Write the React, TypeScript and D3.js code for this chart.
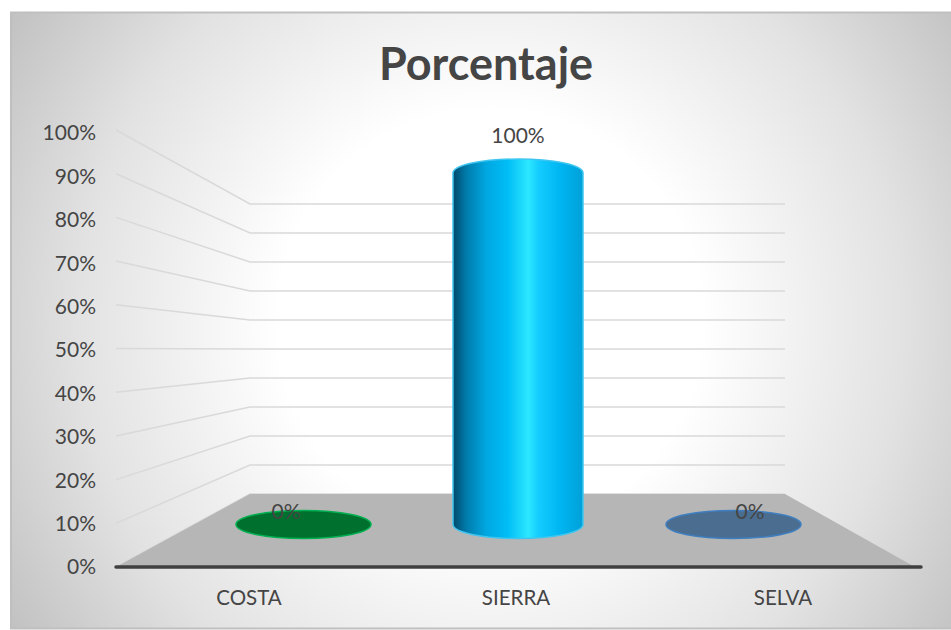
import React from "react";
import * as d3 from "d3";

const categories = ["COSTA", "SIERRA", "SELVA"];
const values = [0, 100, 0];
const valueLabels = ["0%", "100%", "0%"];
const ticks = [0, 10, 20, 30, 40, 50, 60, 70, 80, 90, 100];
const capColors = ["#00702f", "", "#4a6d90"];
const capStrokes = ["#00b050", "", "#3f7fc0"];
const title = "Porcentaje";

const W = 951;
const H = 630;
const FONT = "Lato, Carlito, sans-serif";
const TEXT = "#454545";

const frontY = d3.scaleLinear().domain([0, 100]).range([567, 130]);
const tickLabelY = d3.scaleLinear().domain([0, 100]).range([567, 133]);
const backY = d3.scaleLinear().domain([0, 100]).range([494, 204]);
const barY = d3.scaleLinear().domain([0, 100]).range([524.5, 173]);
const barX = d3.scalePoint<string>().domain(categories).range([303.5, 733.5]);
const catX = d3.scalePoint<string>().domain(categories).range([249, 783]);
const labelX = d3.scalePoint<string>().domain(categories).range([286, 750]);

const wallLeft = 116;
const wallBack = 250;
const wallRight = 785;

export default function App() {
  const rx = 65;
  const ry = 14;
  return (
    <svg width={W} height={H} viewBox={`0 0 ${W} ${H}`} style={{ position: "fixed", left: 0, top: 0, background: "#fff" }}>
      <defs>
        <radialGradient id="bg" gradientUnits="userSpaceOnUse" cx={490} cy={322} r={590}>
          <stop offset="0" stopColor="#fff" />
          <stop offset="0.36" stopColor="#fff" />
          <stop offset="0.7" stopColor="#e2e2e2" />
          <stop offset="1" stopColor="#bdbdbd" />
        </radialGradient>
        <linearGradient id="cyl" x1="0" x2="1" y1="0" y2="0">
          <stop offset="0" stopColor="#00496a" />
          <stop offset="0.1" stopColor="#007bab" />
          <stop offset="0.26" stopColor="#00a8e2" />
          <stop offset="0.42" stopColor="#00bdf6" />
          <stop offset="0.58" stopColor="#2ce8ff" />
          <stop offset="0.66" stopColor="#14ccff" />
          <stop offset="0.82" stopColor="#00b6f2" />
          <stop offset="1" stopColor="#00a0d8" />
        </linearGradient>
      </defs>

      <rect x={11} y={12.5} width={W} height={616} fill="url(#bg)" stroke="#bfbfbf" strokeWidth={2} />

      {ticks.map((t) => (
        <path
          key={t}
          d={`M${wallLeft},${frontY(t)} L${wallBack},${backY(t)} L${wallRight},${backY(t)}`}
          fill="none"
          stroke="#d9d9d9"
          strokeWidth={1.5}
        />
      ))}

      <path
        d={`M${wallBack},${backY(0)} L${wallRight},${backY(0)} L${915},${frontY(0)} L${wallLeft},${frontY(0)} Z`}
        fill="#b6b6b6"
      />

      <line x1={wallLeft} x2={921} y1={frontY(0)} y2={frontY(0)} stroke="#404040" strokeWidth={3.5} strokeLinecap="round" />

      {ticks.map((t) => (
        <text key={t} x={96} y={tickLabelY(t)} dy="0.35em" textAnchor="end" fontFamily={FONT} fontSize={21} fill={TEXT}>
          {t}%
        </text>
      ))}

      {categories.map((c, i) => {
        const cx = barX(c) as number;
        if (values[i] === 0) {
          return (
            <ellipse key={c} cx={cx} cy={barY(0)} rx={67.5} ry={ry} fill={capColors[i]} stroke={capStrokes[i]} strokeWidth={1.5} />
          );
        }
        const x0 = cx - rx - 0.5;
        const x1 = cx + rx - 0.5;
        return (
          <path
            key={c}
            d={`M${x0},${barY(values[i])} A${rx},${ry} 0 0 1 ${x1},${barY(values[i])} L${x1},${barY(0)} A${rx},${ry} 0 0 1 ${x0},${barY(0)} Z`}
            fill="url(#cyl)"
            stroke="#3fc6f0"
            strokeWidth={1.5}
          />
        );
      })}

      {categories.map((c) => (
        <text key={c} x={catX(c)} y={598} dy="0.35em" textAnchor="middle" fontFamily={FONT} fontSize={20.5} fill={TEXT}>
          {c}
        </text>
      ))}

      {categories.map((c, i) => (
        <text
          key={c}
          x={labelX(c)}
          y={values[i] === 0 ? 512 : 136}
          dy="0.35em"
          textAnchor="middle"
          fontFamily={FONT}
          fontSize={21}
          fill={TEXT}
        >
          {valueLabels[i]}
        </text>
      ))}

      <text x={486} y={64} dy="0.35em" textAnchor="middle" fontFamily={FONT} fontWeight={700} fontSize={45} fill={TEXT}>
        {title}
      </text>
    </svg>
  );
}
